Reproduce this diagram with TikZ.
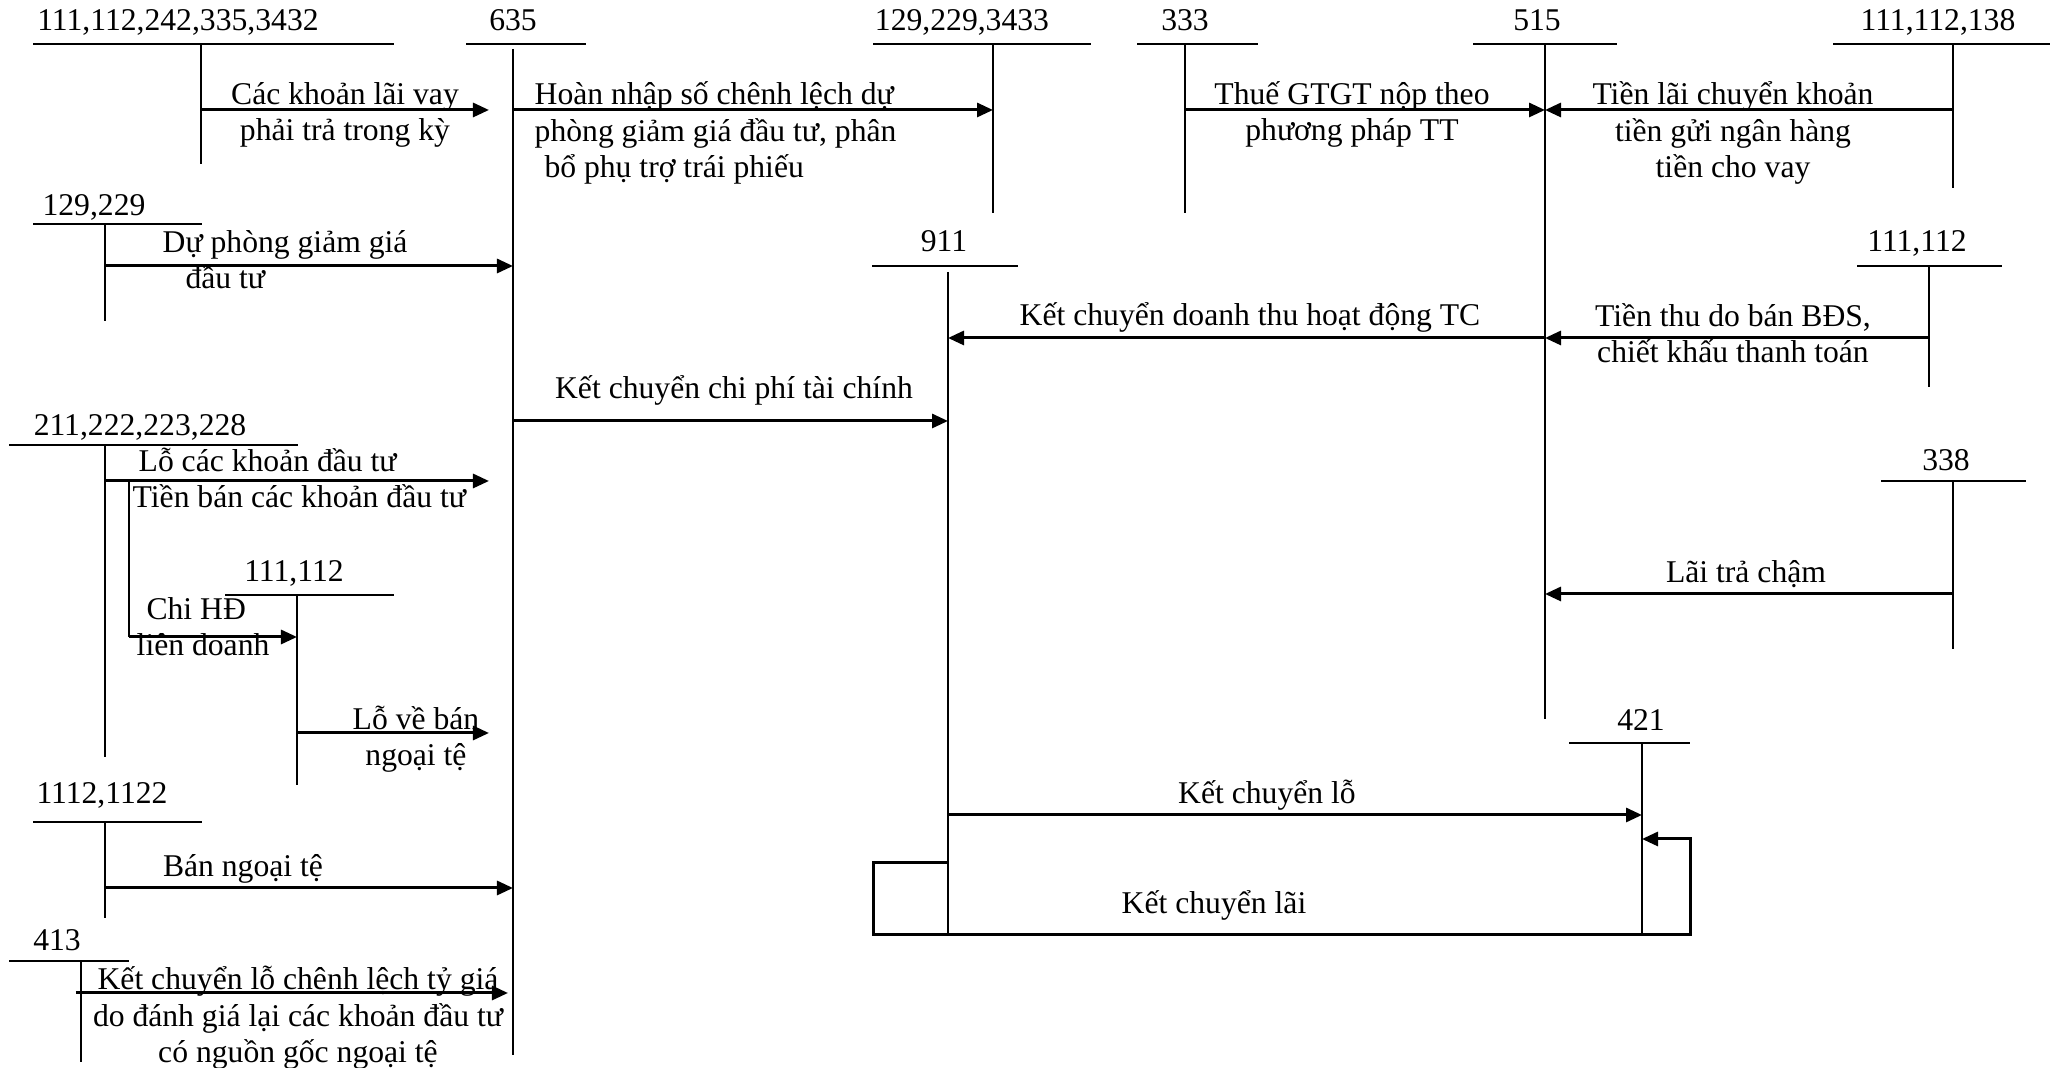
\documentclass[tikz,border=0pt]{standalone}
\usepackage{fontspec}
\setmainfont{Liberation Serif}
\usetikzlibrary{arrows.meta}

\begin{document}
\begin{tikzpicture}[
    x=0.01cm, y=-0.01cm,
    acct/.style={line width=0.5pt},
    flow/.style={
        -{Triangle[length=0.16cm, width=0.14cm]}, line width=0.85pt
    },
    acclbl/.style={
        font=\fontsize{9}{10.5}\selectfont, inner sep=0pt, anchor=base
    },
    note/.style={
        font=\fontsize{9}{10.5}\selectfont, inner sep=0pt,
        anchor=base, align=center
    }
]
\useasboundingbox (0,0) rectangle (2054,1068);

% Top row of T-accounts
\node[acclbl] (n3432) at (178,31) {111,112,242,335,3432};
\draw[acct] (33,44) -- (394,44);
\coordinate (v3432) at (201,44);
\draw[acct] (v3432) -- ++(0,120);

\node[acclbl] (n635) at (513,31) {635};
\draw[acct] (466,44) -- (586,44);
\coordinate (v635) at (513,49);
\draw[acct] (v635) -- ++(0,1006);

\node[acclbl] (n3433) at (962,31) {129,229,3433};
\draw[acct] (873,44) -- (1091,44);
\coordinate (v3433) at (993,44);
\draw[acct] (v3433) -- ++(0,169);

\node[acclbl] (n333) at (1185,31) {333};
\draw[acct] (1137,44) -- (1258,44);
\coordinate (v333) at (1185,44);
\draw[acct] (v333) -- ++(0,169);

\node[acclbl] (n515) at (1537,31) {515};
\draw[acct] (1473,44) -- (1617,44);
\coordinate (v515) at (1545,44);
\draw[acct] (v515) -- ++(0,675);

\node[acclbl] (n138) at (1938,31) {111,112,138};
\draw[acct] (1833,44) -- (2050,44);
\coordinate (v138) at (1953,44);
\draw[acct] (v138) -- ++(0,144);

% Left column of T-accounts
\node[acclbl] (n229) at (94,216) {129,229};
\draw[acct] (33,224) -- (202,224);
\coordinate (v229) at (105,224);
\draw[acct] (v229) -- ++(0,97);

\node[acclbl] (n228) at (140,436) {211,222,223,228};
\draw[acct] (9,445) -- (298,445);
\coordinate (v228) at (105,445);
\draw[acct] (v228) -- ++(0,312);
\coordinate (v228b) at (129,481);
\draw[acct] (v228b) -- ++(0,156);

\node[acclbl] (n112m) at (294,582) {111,112};
\draw[acct] (225,595) -- (394,595);
\coordinate (v112m) at (297,595);
\draw[acct] (v112m) -- ++(0,190);

\node[acclbl] (n1122) at (102,804) {1112,1122};
\draw[acct] (33,822) -- (202,822);
\coordinate (v1122) at (105,822);
\draw[acct] (v1122) -- ++(0,96);

\node[acclbl] (n413) at (57,951) {413};
\draw[acct] (9,961) -- (129,961);
\coordinate (v413) at (81,961);
\draw[acct] (v413) -- ++(0,101);

% Middle and right T-accounts
\node[acclbl] (n911) at (944,252) {911};
\draw[acct] (872,266) -- (1018,266);
\coordinate (v911) at (948,272);
\draw[acct] (v911) -- ++(0,663);

\node[acclbl] (n112r) at (1917,252) {111,112};
\draw[acct] (1857,266) -- (2002,266);
\coordinate (v112r) at (1929,266);
\draw[acct] (v112r) -- ++(0,121);

\node[acclbl] (n338) at (1946,471) {338};
\draw[acct] (1881,481) -- (2026,481);
\coordinate (v338) at (1953,481);
\draw[acct] (v338) -- ++(0,168);

\node[acclbl] (n421) at (1641,731) {421};
\draw[acct] (1569,743) -- (1690,743);
\coordinate (v421) at (1642,743);
\draw[acct] (v421) -- ++(0,192);

% Entries into 635 and 911
\draw[flow, shorten >=0.24cm] (v3432 |- 0,110) -- (v635 |- 0,110);
\node[note] (l1) at (345,141) {Các khoản lãi vay\\phải trả trong kỳ};
\draw[flow] (v635 |- 0,110) -- (v3433 |- 0,110);
\node[note, anchor=base west, align=left] (l2) at (534,178)
    {Hoàn nhập số chênh lệch dự\\phòng giảm giá đầu tư, phân\\\hspace*{2.8pt}bổ phụ trợ trái phiếu};
\draw[flow] (v229 |- 0,266) -- (v635 |- 0,266);
\node[note, anchor=base west, align=left] (l5) at (162,289)
    {Dự phòng giảm giá\\\hspace*{6.5pt}đầu tư};
\draw[flow] (v635 |- 0,421) -- (v911 |- 0,421);
\node[note] (l8) at (734,399) {Kết chuyển chi phí tài chính};
\draw[flow, shorten >=0.24cm] (v228 |- 0,481) -- (v635 |- 0,481);
\node[note, anchor=base west, align=left] (l9) at (132,508)
    {\hspace*{1.7pt}Lỗ các khoản đầu tư\\Tiền bán các khoản đầu tư};
\draw[flow] (v228b |- 0,637) -- (v112m |- 0,637);
\node[note, anchor=base west, align=left] (l10) at (136,656)
    {\hspace*{2.8pt}Chi HĐ\\liên doanh};
\draw[flow, shorten >=0.24cm] (v112m |- 0,733) -- (v635 |- 0,733);
\node[note] (l11) at (416,766) {Lỗ về bán\\ngoại tệ};
\draw[flow] (v1122 |- 0,888) -- (v635 |- 0,888);
\node[note] (l12) at (243,877) {Bán ngoại tệ};
\draw[flow, shorten <=-0.05cm, shorten >=0.05cm] (v413 |- 0,993) -- (v635 |- 0,993);
\node[note] (l13) at (298,1063)
    {Kết chuyển lỗ chênh lệch tỷ giá\\do đánh giá lại các khoản đầu tư\\có nguồn gốc ngoại tệ};

% Entries into 515
\draw[flow] (v333 |- 0,110) -- (v515 |- 0,110);
\node[note] (l3) at (1352,141) {Thuế GTGT nộp theo\\phương pháp TT};
\draw[flow] (v138 |- 0,110) -- (v515 |- 0,110);
\node[note] (l4) at (1733,178) {Tiền lãi chuyển khoản\\tiền gửi ngân hàng\\tiền cho vay};
\draw[flow] (v112r |- 0,338) -- (v515 |- 0,338);
\node[note] (l7) at (1733,363) {Tiền thu do bán BĐS,\\chiết khấu thanh toán};
\draw[flow] (v338 |- 0,594) -- (v515 |- 0,594);
\node[note] (l14) at (1746,583) {Lãi trả chậm};
\draw[flow] (v515 |- 0,338) -- (v911 |- 0,338);
\node[note] (l6) at (1250,326) {Kết chuyển doanh thu hoạt động TC};

% Closing 911 into 421
\draw[flow] (v911 |- 0,815) -- (v421 |- 0,815);
\node[note] (l15) at (1267,804) {Kết chuyển lỗ};
\draw[flow] (v911 |- 0,863) -| (873,935) -| (1690,839) -- (v421 |- 0,839);
\node[note] (l16) at (1214,914) {Kết chuyển lãi};

\end{tikzpicture}
\end{document}
